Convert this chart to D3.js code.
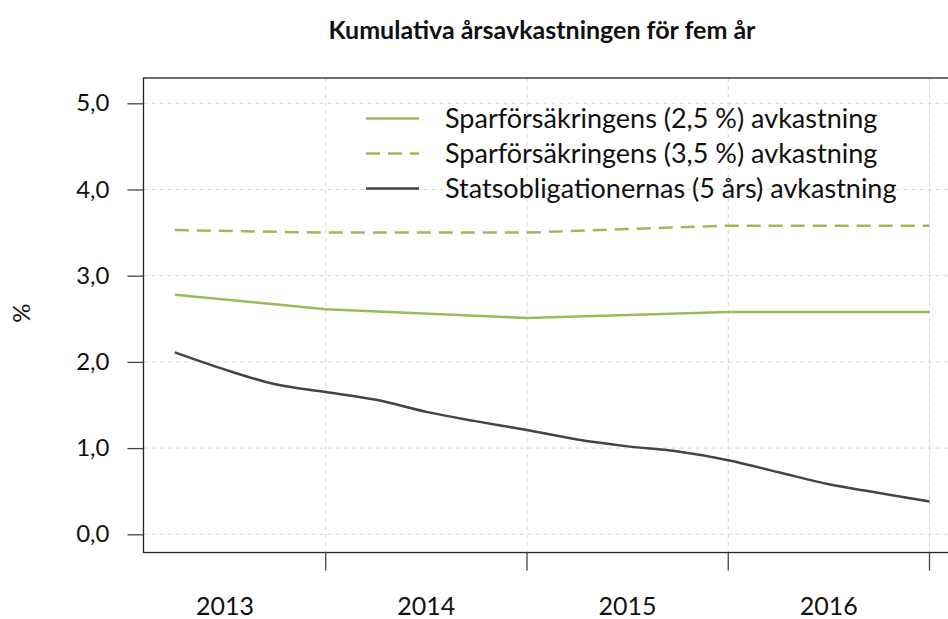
<!DOCTYPE html>
<html>
<head>
<meta charset="utf-8">
<script src="https://cdnjs.cloudflare.com/ajax/libs/d3/7.8.5/d3.min.js"></script>
<style>
  html, body { margin: 0; padding: 0; background: #fff; }
  svg { display: block; }
</style>
</head>
<body>
<svg id="chart" width="948" height="619"></svg>
<script>
// ---- Data ----
const title = "Kumulativa årsavkastningen för fem år";
const yAxisLabel = "%";
const yearLabels = ["2013", "2014", "2015", "2016"];
const yTicks = [0, 1, 2, 3, 4, 5];

// quarterly observation times (decimal years)
const statsPeriods = [2013.25, 2013.5, 2013.75, 2014.0, 2014.25, 2014.5, 2014.75, 2015.0,
                      2015.25, 2015.5, 2015.75, 2016.0, 2016.25, 2016.5, 2016.75, 2017.0];
const statsValues  = [2.11, 1.91, 1.74, 1.65, 1.56, 1.42, 1.31, 1.21,
                      1.10, 1.02, 0.96, 0.86, 0.72, 0.58, 0.48, 0.38];

const sparPeriods  = [2013.25, 2014.0, 2015.0, 2016.0, 2017.0];
const spar25Values = [2.78, 2.61, 2.51, 2.58, 2.58];
const spar35Values = [3.53, 3.50, 3.50, 3.58, 3.58];

const seriesNames = [
  "Sparförsäkringens (2,5 %) avkastning",
  "Sparförsäkringens (3,5 %) avkastning",
  "Statsobligationernas (5 års) avkastning"
];

// ---- Layout ----
const svg = d3.select("#chart");
const plot = { left: 143.5, top: 78, right: 960, bottom: 552.5 };
const green = "#9bbb59", dark = "#444444", grid = "#d4d4d4";
const font = "Lato, 'Open Sans', sans-serif";

const x = d3.scaleLinear().domain([2013, 2017]).range([124.5, 929.5]);
const y = d3.scaleLinear().domain([0, 5]).range([534.3, 103.3]);

// gridlines
const gy = svg.append("g");
gy.selectAll("line.h").data(yTicks).join("line")
  .attr("x1", plot.left).attr("x2", plot.right)
  .attr("y1", d => y(d)).attr("y2", d => y(d))
  .attr("stroke", grid).attr("stroke-width", 1).attr("stroke-dasharray", "4,4");
gy.selectAll("line.v").data([2014, 2015, 2016, 2017]).join("line")
  .attr("x1", d => x(d)).attr("x2", d => x(d))
  .attr("y1", plot.top).attr("y2", plot.bottom)
  .attr("stroke", grid).attr("stroke-width", 1).attr("stroke-dasharray", "4,4");

// frame
svg.append("rect").attr("x", plot.left).attr("y", plot.top)
  .attr("width", plot.right - plot.left).attr("height", plot.bottom - plot.top)
  .attr("fill", "none").attr("stroke", "#222").attr("stroke-width", 1.3);

// y axis
const yAxis = d3.axisLeft(y).tickValues(yTicks).tickSize(16).tickPadding(18)
  .tickFormat(d => d3.format(".1f")(d).replace(".", ","));
const yG = svg.append("g").attr("transform", `translate(${plot.left},0)`).call(yAxis);
yG.select(".domain").remove();
yG.selectAll(".tick line").attr("stroke", "#444").attr("stroke-width", 1.3);
yG.selectAll(".tick text").attr("font-family", font).attr("font-size", 24).attr("fill", "#111");

// x axis: ticks at year boundaries, labels centered within years
const xTickG = svg.append("g").attr("transform", `translate(0,${plot.bottom})`);
xTickG.selectAll("line").data([2014, 2015, 2016, 2017]).join("line")
  .attr("x1", d => x(d)).attr("x2", d => x(d)).attr("y1", 0).attr("y2", 18)
  .attr("stroke", "#444").attr("stroke-width", 1.3);
xTickG.selectAll("text").data(yearLabels).join("text")
  .attr("x", d => x(+d + 0.5)).attr("y", 62.5)
  .attr("text-anchor", "middle").attr("font-family", font).attr("font-size", 25)
  .attr("fill", "#111").text(d => d);

// y label
svg.append("text").attr("transform", "translate(30,313) rotate(-90)")
  .attr("text-anchor", "middle").attr("font-family", font).attr("font-size", 24)
  .attr("fill", "#111").text(yAxisLabel);

// title
svg.append("text").attr("x", 542).attr("y", 39).attr("text-anchor", "middle")
  .attr("font-family", font).attr("font-weight", "bold").attr("font-size", 25)
  .attr("fill", "#111").text(title);

// lines
svg.append("clipPath").attr("id", "clip").append("rect")
  .attr("x", plot.left).attr("y", plot.top).attr("width", plot.right - plot.left).attr("height", plot.bottom - plot.top);
const lines = svg.append("g").attr("clip-path", "url(#clip)");

const lineLin = d3.line().x(d => x(d[0])).y(d => y(d[1]));
const lineSmooth = d3.line().x(d => x(d[0])).y(d => y(d[1])).curve(d3.curveCatmullRom.alpha(0.5));

lines.append("path").datum(d3.zip(sparPeriods, spar35Values))
  .attr("d", lineLin).attr("fill", "none").attr("stroke", green)
  .attr("stroke-width", 2.5).attr("stroke-dasharray", "14,8");
lines.append("path").datum(d3.zip(sparPeriods, spar25Values))
  .attr("d", lineLin).attr("fill", "none").attr("stroke", green).attr("stroke-width", 2.5);
lines.append("path").datum(d3.zip(statsPeriods, statsValues))
  .attr("d", lineSmooth).attr("fill", "none").attr("stroke", dark).attr("stroke-width", 2.5);

// legend
const legendStyles = [
  { color: green, dash: null },
  { color: green, dash: "14,8" },
  { color: dark, dash: null }
];
const legendY = [118.5, 153.5, 188.5];
const lg = svg.append("g");
seriesNames.forEach((name, i) => {
  lg.append("line").attr("x1", 366).attr("x2", 419)
    .attr("y1", legendY[i]).attr("y2", legendY[i])
    .attr("stroke", legendStyles[i].color).attr("stroke-width", 2.5)
    .attr("stroke-dasharray", legendStyles[i].dash);
  lg.append("text").attr("x", 445).attr("y", legendY[i] + 9.5)
    .attr("font-family", font).attr("font-size", 27).attr("fill", "#111").text(name);
});
</script>
</body>
</html>
